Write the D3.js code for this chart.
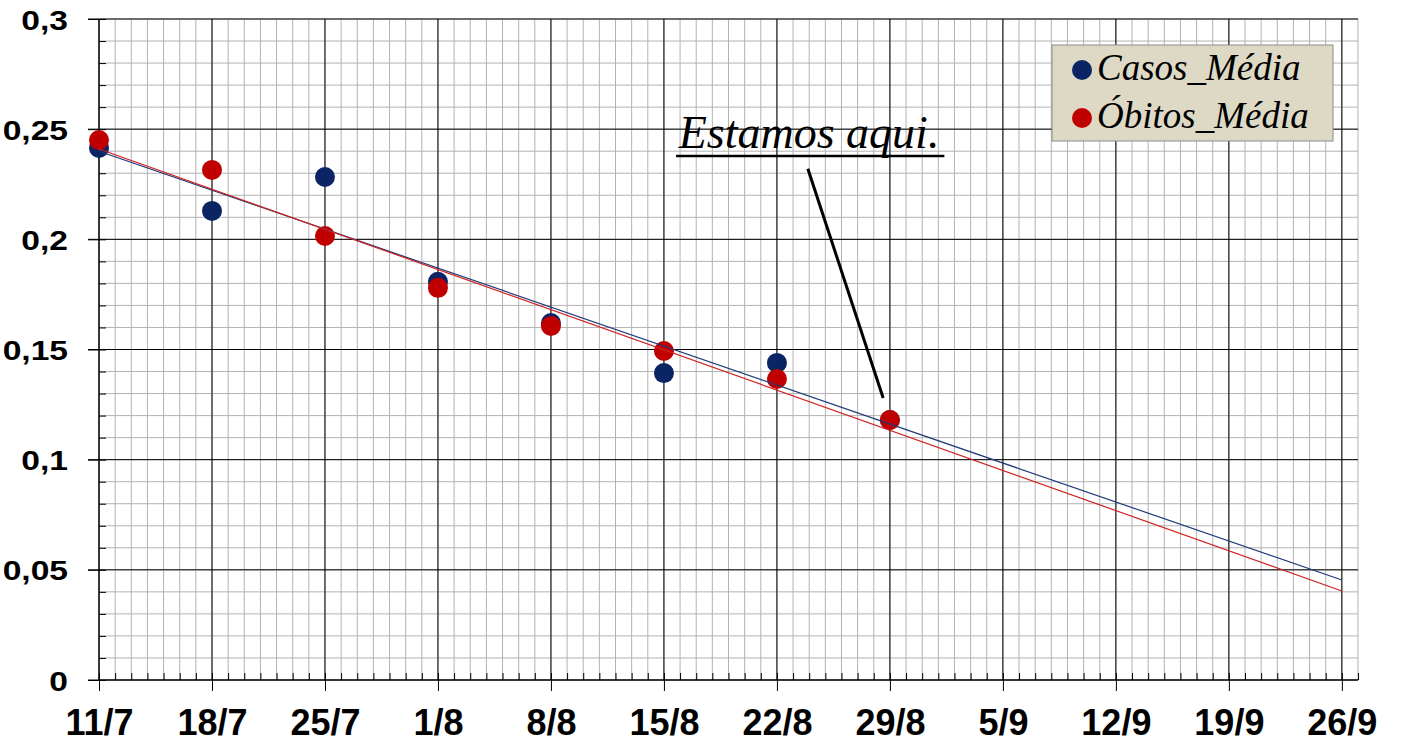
<!DOCTYPE html>
<html>
<head>
<meta charset="utf-8">
<script src="https://cdn.jsdelivr.net/npm/d3@7"></script>
<style>
  body { margin: 0; background: #fff; }
  .tick text { font-family: "Liberation Sans", Arial, sans-serif; font-weight: bold; fill: #000; }
  .legend text, .note { font-family: "Liberation Serif", "Times New Roman", serif; font-style: italic; }
</style>
</head>
<body>
<svg width="1402" height="743"></svg>
<script>
// weekly dates (2020) and tick labels
var weeks = ['2020-07-11', '2020-07-18', '2020-07-25', '2020-08-01', '2020-08-08', '2020-08-15',
             '2020-08-22', '2020-08-29', '2020-09-05', '2020-09-12', '2020-09-19', '2020-09-26'];
var xTickLabels = ['11/7', '18/7', '25/7', '1/8', '8/8', '15/8', '22/8', '29/8', '5/9', '12/9', '19/9', '26/9'];
var yTicks = [0, 0.05, 0.1, 0.15, 0.2, 0.25, 0.3];
var yTickLabels = ['0', '0,05', '0,1', '0,15', '0,2', '0,25', '0,3'];

// observed values
var casosDates = weeks.slice(0, 8);
var casosMedia = [0.2415, 0.2129, 0.2283, 0.1807, 0.1620, 0.1393, 0.1439, 0.1180];
var obitosMedia = [0.2451, 0.2315, 0.2015, 0.1780, 0.1607, 0.1493, 0.1366, 0.1180];

// trend lines (start / end)
var trendDates = ['2020-07-11', '2020-09-26'];
var casosTrend = [0.2400, 0.0454];
var obitosTrend = [0.2410, 0.0404];

var parse = d3.utcParse('%Y-%m-%d');
var svg = d3.select('svg');

var x = d3.scaleUtc()
    .domain([parse('2020-07-11'), parse('2020-09-27')])
    .range([99, 1358]);

var y = d3.scaleLinear()
    .domain([0, 0.3])
    .range([680, 19]);

// grid: minor
var days = d3.utcDay.range(parse('2020-07-11'), d3.utcDay.offset(parse('2020-09-27'), 1));
var minorY = d3.range(0, 31).map(function(d){ return d / 100; });

svg.append('g').selectAll('line')
    .data(days)
    .enter().append('line')
    .attr('x1', function(d){ return x(d); })
    .attr('x2', function(d){ return x(d); })
    .attr('y1', y(0.3)).attr('y2', y(0))
    .style('stroke', '#b3b3b3').style('stroke-width', 1);

svg.append('g').selectAll('line')
    .data(minorY)
    .enter().append('line')
    .attr('x1', x.range()[0]).attr('x2', x.range()[1])
    .attr('y1', function(d){ return y(d); })
    .attr('y2', function(d){ return y(d); })
    .style('stroke', '#b3b3b3').style('stroke-width', 1);

// grid: major
svg.append('g').selectAll('line')
    .data(weeks)
    .enter().append('line')
    .attr('x1', function(d){ return x(parse(d)); })
    .attr('x2', function(d){ return x(parse(d)); })
    .attr('y1', y(0.3)).attr('y2', y(0))
    .style('stroke', '#000').style('stroke-width', 1);

svg.append('g').selectAll('line')
    .data(yTicks)
    .enter().append('line')
    .attr('x1', 88).attr('x2', x.range()[1])
    .attr('y1', function(d){ return y(d); })
    .attr('y2', function(d){ return y(d); })
    .style('stroke', '#000').style('stroke-width', 1);

// minor ticks inside the plot
var yMinorAxis = d3.axisRight(y).tickValues(minorY).tickSize(7).tickFormat('');
svg.append('g')
    .attr('transform', 'translate(99,0)')
    .call(yMinorAxis)
    .call(function(g){ g.select('.domain').remove(); });

var xMinorAxis = d3.axisTop(x).tickValues(days).tickSize(7).tickFormat('');
svg.append('g')
    .attr('transform', 'translate(0,680)')
    .call(xMinorAxis)
    .call(function(g){ g.select('.domain').remove(); });

// main axes
var yAxis = d3.axisLeft(y)
    .tickValues(yTicks)
    .tickSize(11)
    .tickFormat(function(d, i){ return yTickLabels[i]; });

svg.append('g')
    .attr('class', 'y axis')
    .attr('transform', 'translate(99,0)')
    .call(yAxis)
    .call(function(g){
        g.select('.domain').attr('d', 'M0,' + y(0.3) + 'V' + y(0)).style('stroke', '#000');
        g.selectAll('.tick text')
            .style('font-size', '28px')
            .attr('x', -31 / 1.2)
            .attr('dy', '0.36em')
            .attr('transform', 'scale(1.2,1)');
    });

var xAxis = d3.axisBottom(x)
    .tickValues(weeks.map(parse))
    .tickSize(11)
    .tickFormat(function(d, i){ return xTickLabels[i]; });

svg.append('g')
    .attr('class', 'x axis')
    .attr('transform', 'translate(0,680)')
    .call(xAxis)
    .call(function(g){
        g.select('.domain').attr('d', 'M' + x.range()[0] + ',0H' + x.range()[1]).style('stroke', '#000');
        g.selectAll('.tick text')
            .style('font-size', '36px')
            .attr('y', 55)
            .attr('dy', 0);
    });

// points
svg.append('g').selectAll('circle')
    .data(casosMedia)
    .enter().append('circle')
    .attr('cx', function(d, i){ return x(parse(casosDates[i])); })
    .attr('cy', function(d){ return y(d); })
    .attr('r', 10)
    .style('fill', '#0b2463');

svg.append('g').selectAll('circle')
    .data(obitosMedia)
    .enter().append('circle')
    .attr('cx', function(d, i){ return x(parse(casosDates[i])); })
    .attr('cy', function(d){ return y(d); })
    .attr('r', 10)
    .style('fill', '#c00000');

// trend lines
var line = d3.line()
    .x(function(d, i){ return x(parse(trendDates[i])); })
    .y(function(d){ return y(d); });

svg.append('path')
    .datum(casosTrend)
    .attr('d', line)
    .style('fill', 'none').style('stroke', '#1f3a78').style('stroke-width', 1.2);

svg.append('path')
    .datum(obitosTrend)
    .attr('d', line)
    .style('fill', 'none').style('stroke', '#d02020').style('stroke-width', 1.2);

// annotation
var hour = function(date, h){ return x(d3.utcHour.offset(parse(date), h)); };

svg.append('text')
    .attr('class', 'note')
    .attr('x', hour('2020-08-15', 22))
    .attr('y', y(0.2415))
    .style('font-size', '46px')
    .text('Estamos aqui.');

svg.append('line')
    .attr('x1', hour('2020-08-15', 18)).attr('x2', hour('2020-09-01', 9))
    .attr('y1', 156).attr('y2', 156)
    .style('stroke', '#000').style('stroke-width', 2.5);

svg.append('line')
    .attr('x1', hour('2020-08-22', 46))
    .attr('y1', y(0.232))
    .attr('x2', hour('2020-08-29', -10))
    .attr('y2', y(0.128))
    .style('stroke', '#000').style('stroke-width', 3);

// legend
var legend = svg.append('g').attr('class', 'legend');
legend.append('rect')
    .attr('x', 1052).attr('y', 45)
    .attr('width', 281).attr('height', 96)
    .style('fill', '#ddd9c5').style('stroke', '#8c8c8c').style('stroke-width', 1);

var legendItems = [
    { name: 'Casos_Média', color: '#0b2463' },
    { name: 'Óbitos_Média', color: '#c00000' }
];

legend.selectAll('circle')
    .data(legendItems)
    .enter().append('circle')
    .attr('cx', 1082)
    .attr('cy', function(d, i){ return 70 + i * 48; })
    .attr('r', 10)
    .style('fill', function(d){ return d.color; });

legend.selectAll('text')
    .data(legendItems)
    .enter().append('text')
    .attr('x', 1097)
    .attr('y', function(d, i){ return 80 + i * 48; })
    .style('font-size', '37px')
    .text(function(d){ return d.name; });
</script>
</body>
</html>
